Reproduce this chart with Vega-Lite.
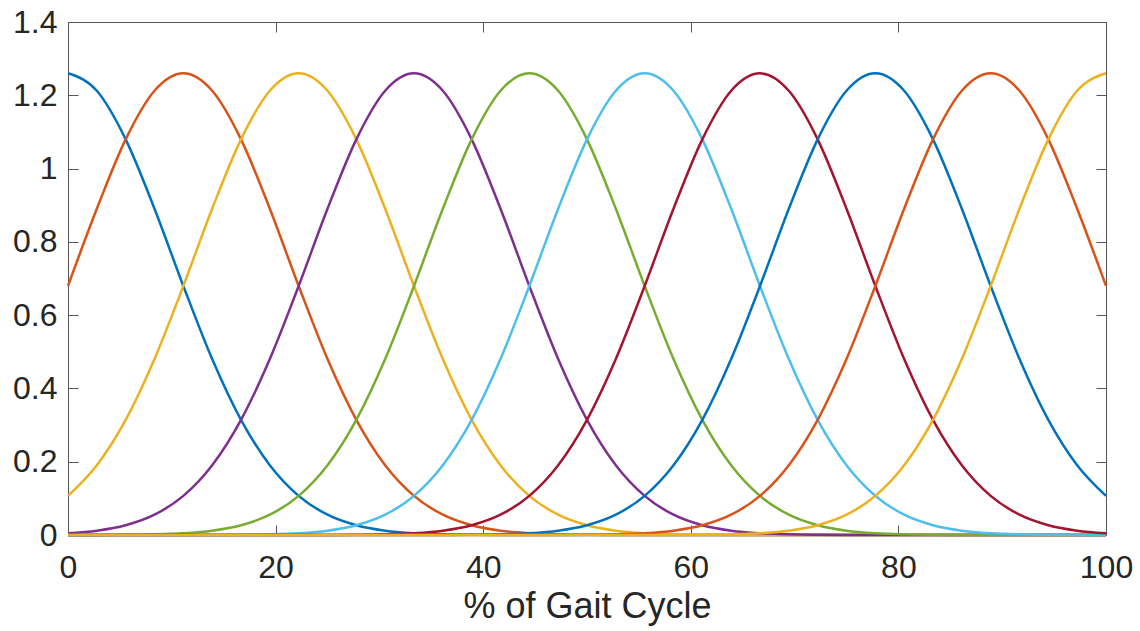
{
"$schema": "https://vega.github.io/schema/vega-lite/v6.json",
"width": 1038,
"height": 513,
"autosize": {"type": "none"},
"padding": {"left": 68, "top": 22, "right": 34, "bottom": 96},
"background": "white",
"data": {"values": [
{"x":0,"s":1,"y":1.26},{"x":2.778,"s":1,"y":1.2123},{"x":5.556,"s":1,"y":1.0798},{"x":8.333,"s":1,"y":0.8904},{"x":11.111,"s":1,"y":0.6797},{"x":13.889,"s":1,"y":0.4803},{"x":16.667,"s":1,"y":0.3142},{"x":19.444,"s":1,"y":0.1903},{"x":22.222,"s":1,"y":0.1067},{"x":25,"s":1,"y":0.0554},{"x":27.778,"s":1,"y":0.0266},{"x":30.556,"s":1,"y":0.0118},{"x":33.333,"s":1,"y":0.0049},{"x":36.111,"s":1,"y":0.0019},{"x":38.889,"s":1,"y":0.0007},{"x":41.667,"s":1,"y":0.0002},{"x":44.444,"s":1,"y":0},{"x":47.222,"s":1,"y":0},{"x":50,"s":1,"y":0},{"x":52.778,"s":1,"y":0},{"x":55.556,"s":1,"y":0},{"x":58.333,"s":1,"y":0},{"x":61.111,"s":1,"y":0},{"x":63.889,"s":1,"y":0},{"x":66.667,"s":1,"y":0},{"x":69.444,"s":1,"y":0},{"x":72.222,"s":1,"y":0},{"x":75,"s":1,"y":0},{"x":77.778,"s":1,"y":0},{"x":80.556,"s":1,"y":0},{"x":83.333,"s":1,"y":0},{"x":86.111,"s":1,"y":0},{"x":88.889,"s":1,"y":0},{"x":91.667,"s":1,"y":0},{"x":94.444,"s":1,"y":0},{"x":97.222,"s":1,"y":0},{"x":100,"s":1,"y":0},
{"x":0,"s":2,"y":0.6797},{"x":2.778,"s":2,"y":0.8904},{"x":5.556,"s":2,"y":1.0798},{"x":8.333,"s":2,"y":1.2123},{"x":11.111,"s":2,"y":1.26},{"x":13.889,"s":2,"y":1.2123},{"x":16.667,"s":2,"y":1.0798},{"x":19.444,"s":2,"y":0.8904},{"x":22.222,"s":2,"y":0.6797},{"x":25,"s":2,"y":0.4803},{"x":27.778,"s":2,"y":0.3142},{"x":30.556,"s":2,"y":0.1903},{"x":33.333,"s":2,"y":0.1067},{"x":36.111,"s":2,"y":0.0554},{"x":38.889,"s":2,"y":0.0266},{"x":41.667,"s":2,"y":0.0118},{"x":44.444,"s":2,"y":0.0049},{"x":47.222,"s":2,"y":0.0019},{"x":50,"s":2,"y":0.0007},{"x":52.778,"s":2,"y":0.0002},{"x":55.556,"s":2,"y":0},{"x":58.333,"s":2,"y":0},{"x":61.111,"s":2,"y":0},{"x":63.889,"s":2,"y":0},{"x":66.667,"s":2,"y":0},{"x":69.444,"s":2,"y":0},{"x":72.222,"s":2,"y":0},{"x":75,"s":2,"y":0},{"x":77.778,"s":2,"y":0},{"x":80.556,"s":2,"y":0},{"x":83.333,"s":2,"y":0},{"x":86.111,"s":2,"y":0},{"x":88.889,"s":2,"y":0},{"x":91.667,"s":2,"y":0},{"x":94.444,"s":2,"y":0},{"x":97.222,"s":2,"y":0},{"x":100,"s":2,"y":0},
{"x":0,"s":3,"y":0.1067},{"x":2.778,"s":3,"y":0.1903},{"x":5.556,"s":3,"y":0.3142},{"x":8.333,"s":3,"y":0.4803},{"x":11.111,"s":3,"y":0.6797},{"x":13.889,"s":3,"y":0.8904},{"x":16.667,"s":3,"y":1.0798},{"x":19.444,"s":3,"y":1.2123},{"x":22.222,"s":3,"y":1.26},{"x":25,"s":3,"y":1.2123},{"x":27.778,"s":3,"y":1.0798},{"x":30.556,"s":3,"y":0.8904},{"x":33.333,"s":3,"y":0.6797},{"x":36.111,"s":3,"y":0.4803},{"x":38.889,"s":3,"y":0.3142},{"x":41.667,"s":3,"y":0.1903},{"x":44.444,"s":3,"y":0.1067},{"x":47.222,"s":3,"y":0.0554},{"x":50,"s":3,"y":0.0266},{"x":52.778,"s":3,"y":0.0118},{"x":55.556,"s":3,"y":0.0049},{"x":58.333,"s":3,"y":0.0019},{"x":61.111,"s":3,"y":0.0007},{"x":63.889,"s":3,"y":0.0002},{"x":66.667,"s":3,"y":0},{"x":69.444,"s":3,"y":0},{"x":72.222,"s":3,"y":0},{"x":75,"s":3,"y":0},{"x":77.778,"s":3,"y":0},{"x":80.556,"s":3,"y":0},{"x":83.333,"s":3,"y":0},{"x":86.111,"s":3,"y":0},{"x":88.889,"s":3,"y":0},{"x":91.667,"s":3,"y":0},{"x":94.444,"s":3,"y":0},{"x":97.222,"s":3,"y":0},{"x":100,"s":3,"y":0},
{"x":0,"s":4,"y":0.0049},{"x":2.778,"s":4,"y":0.0118},{"x":5.556,"s":4,"y":0.0266},{"x":8.333,"s":4,"y":0.0554},{"x":11.111,"s":4,"y":0.1067},{"x":13.889,"s":4,"y":0.1903},{"x":16.667,"s":4,"y":0.3142},{"x":19.444,"s":4,"y":0.4803},{"x":22.222,"s":4,"y":0.6797},{"x":25,"s":4,"y":0.8904},{"x":27.778,"s":4,"y":1.0798},{"x":30.556,"s":4,"y":1.2123},{"x":33.333,"s":4,"y":1.26},{"x":36.111,"s":4,"y":1.2123},{"x":38.889,"s":4,"y":1.0798},{"x":41.667,"s":4,"y":0.8904},{"x":44.444,"s":4,"y":0.6797},{"x":47.222,"s":4,"y":0.4803},{"x":50,"s":4,"y":0.3142},{"x":52.778,"s":4,"y":0.1903},{"x":55.556,"s":4,"y":0.1067},{"x":58.333,"s":4,"y":0.0554},{"x":61.111,"s":4,"y":0.0266},{"x":63.889,"s":4,"y":0.0118},{"x":66.667,"s":4,"y":0.0049},{"x":69.444,"s":4,"y":0.0019},{"x":72.222,"s":4,"y":0.0007},{"x":75,"s":4,"y":0.0002},{"x":77.778,"s":4,"y":0},{"x":80.556,"s":4,"y":0},{"x":83.333,"s":4,"y":0},{"x":86.111,"s":4,"y":0},{"x":88.889,"s":4,"y":0},{"x":91.667,"s":4,"y":0},{"x":94.444,"s":4,"y":0},{"x":97.222,"s":4,"y":0},{"x":100,"s":4,"y":0},
{"x":0,"s":5,"y":0},{"x":2.778,"s":5,"y":0.0002},{"x":5.556,"s":5,"y":0.0007},{"x":8.333,"s":5,"y":0.0019},{"x":11.111,"s":5,"y":0.0049},{"x":13.889,"s":5,"y":0.0118},{"x":16.667,"s":5,"y":0.0266},{"x":19.444,"s":5,"y":0.0554},{"x":22.222,"s":5,"y":0.1067},{"x":25,"s":5,"y":0.1903},{"x":27.778,"s":5,"y":0.3142},{"x":30.556,"s":5,"y":0.4803},{"x":33.333,"s":5,"y":0.6797},{"x":36.111,"s":5,"y":0.8904},{"x":38.889,"s":5,"y":1.0798},{"x":41.667,"s":5,"y":1.2123},{"x":44.444,"s":5,"y":1.26},{"x":47.222,"s":5,"y":1.2123},{"x":50,"s":5,"y":1.0798},{"x":52.778,"s":5,"y":0.8904},{"x":55.556,"s":5,"y":0.6797},{"x":58.333,"s":5,"y":0.4803},{"x":61.111,"s":5,"y":0.3142},{"x":63.889,"s":5,"y":0.1903},{"x":66.667,"s":5,"y":0.1067},{"x":69.444,"s":5,"y":0.0554},{"x":72.222,"s":5,"y":0.0266},{"x":75,"s":5,"y":0.0118},{"x":77.778,"s":5,"y":0.0049},{"x":80.556,"s":5,"y":0.0019},{"x":83.333,"s":5,"y":0.0007},{"x":86.111,"s":5,"y":0.0002},{"x":88.889,"s":5,"y":0},{"x":91.667,"s":5,"y":0},{"x":94.444,"s":5,"y":0},{"x":97.222,"s":5,"y":0},{"x":100,"s":5,"y":0},
{"x":0,"s":6,"y":0},{"x":2.778,"s":6,"y":0},{"x":5.556,"s":6,"y":0},{"x":8.333,"s":6,"y":0},{"x":11.111,"s":6,"y":0},{"x":13.889,"s":6,"y":0.0002},{"x":16.667,"s":6,"y":0.0007},{"x":19.444,"s":6,"y":0.0019},{"x":22.222,"s":6,"y":0.0049},{"x":25,"s":6,"y":0.0118},{"x":27.778,"s":6,"y":0.0266},{"x":30.556,"s":6,"y":0.0554},{"x":33.333,"s":6,"y":0.1067},{"x":36.111,"s":6,"y":0.1903},{"x":38.889,"s":6,"y":0.3142},{"x":41.667,"s":6,"y":0.4803},{"x":44.444,"s":6,"y":0.6797},{"x":47.222,"s":6,"y":0.8904},{"x":50,"s":6,"y":1.0798},{"x":52.778,"s":6,"y":1.2123},{"x":55.556,"s":6,"y":1.26},{"x":58.333,"s":6,"y":1.2123},{"x":61.111,"s":6,"y":1.0798},{"x":63.889,"s":6,"y":0.8904},{"x":66.667,"s":6,"y":0.6797},{"x":69.444,"s":6,"y":0.4803},{"x":72.222,"s":6,"y":0.3142},{"x":75,"s":6,"y":0.1903},{"x":77.778,"s":6,"y":0.1067},{"x":80.556,"s":6,"y":0.0554},{"x":83.333,"s":6,"y":0.0266},{"x":86.111,"s":6,"y":0.0118},{"x":88.889,"s":6,"y":0.0049},{"x":91.667,"s":6,"y":0.0019},{"x":94.444,"s":6,"y":0.0007},{"x":97.222,"s":6,"y":0.0002},{"x":100,"s":6,"y":0},
{"x":0,"s":7,"y":0},{"x":2.778,"s":7,"y":0},{"x":5.556,"s":7,"y":0},{"x":8.333,"s":7,"y":0},{"x":11.111,"s":7,"y":0},{"x":13.889,"s":7,"y":0},{"x":16.667,"s":7,"y":0},{"x":19.444,"s":7,"y":0},{"x":22.222,"s":7,"y":0},{"x":25,"s":7,"y":0.0002},{"x":27.778,"s":7,"y":0.0007},{"x":30.556,"s":7,"y":0.0019},{"x":33.333,"s":7,"y":0.0049},{"x":36.111,"s":7,"y":0.0118},{"x":38.889,"s":7,"y":0.0266},{"x":41.667,"s":7,"y":0.0554},{"x":44.444,"s":7,"y":0.1067},{"x":47.222,"s":7,"y":0.1903},{"x":50,"s":7,"y":0.3142},{"x":52.778,"s":7,"y":0.4803},{"x":55.556,"s":7,"y":0.6797},{"x":58.333,"s":7,"y":0.8904},{"x":61.111,"s":7,"y":1.0798},{"x":63.889,"s":7,"y":1.2123},{"x":66.667,"s":7,"y":1.26},{"x":69.444,"s":7,"y":1.2123},{"x":72.222,"s":7,"y":1.0798},{"x":75,"s":7,"y":0.8904},{"x":77.778,"s":7,"y":0.6797},{"x":80.556,"s":7,"y":0.4803},{"x":83.333,"s":7,"y":0.3142},{"x":86.111,"s":7,"y":0.1903},{"x":88.889,"s":7,"y":0.1067},{"x":91.667,"s":7,"y":0.0554},{"x":94.444,"s":7,"y":0.0266},{"x":97.222,"s":7,"y":0.0118},{"x":100,"s":7,"y":0.0049},
{"x":0,"s":8,"y":0},{"x":2.778,"s":8,"y":0},{"x":5.556,"s":8,"y":0},{"x":8.333,"s":8,"y":0},{"x":11.111,"s":8,"y":0},{"x":13.889,"s":8,"y":0},{"x":16.667,"s":8,"y":0},{"x":19.444,"s":8,"y":0},{"x":22.222,"s":8,"y":0},{"x":25,"s":8,"y":0},{"x":27.778,"s":8,"y":0},{"x":30.556,"s":8,"y":0},{"x":33.333,"s":8,"y":0},{"x":36.111,"s":8,"y":0.0002},{"x":38.889,"s":8,"y":0.0007},{"x":41.667,"s":8,"y":0.0019},{"x":44.444,"s":8,"y":0.0049},{"x":47.222,"s":8,"y":0.0118},{"x":50,"s":8,"y":0.0266},{"x":52.778,"s":8,"y":0.0554},{"x":55.556,"s":8,"y":0.1067},{"x":58.333,"s":8,"y":0.1903},{"x":61.111,"s":8,"y":0.3142},{"x":63.889,"s":8,"y":0.4803},{"x":66.667,"s":8,"y":0.6797},{"x":69.444,"s":8,"y":0.8904},{"x":72.222,"s":8,"y":1.0798},{"x":75,"s":8,"y":1.2123},{"x":77.778,"s":8,"y":1.26},{"x":80.556,"s":8,"y":1.2123},{"x":83.333,"s":8,"y":1.0798},{"x":86.111,"s":8,"y":0.8904},{"x":88.889,"s":8,"y":0.6797},{"x":91.667,"s":8,"y":0.4803},{"x":94.444,"s":8,"y":0.3142},{"x":97.222,"s":8,"y":0.1903},{"x":100,"s":8,"y":0.1067},
{"x":0,"s":9,"y":0},{"x":2.778,"s":9,"y":0},{"x":5.556,"s":9,"y":0},{"x":8.333,"s":9,"y":0},{"x":11.111,"s":9,"y":0},{"x":13.889,"s":9,"y":0},{"x":16.667,"s":9,"y":0},{"x":19.444,"s":9,"y":0},{"x":22.222,"s":9,"y":0},{"x":25,"s":9,"y":0},{"x":27.778,"s":9,"y":0},{"x":30.556,"s":9,"y":0},{"x":33.333,"s":9,"y":0},{"x":36.111,"s":9,"y":0},{"x":38.889,"s":9,"y":0},{"x":41.667,"s":9,"y":0},{"x":44.444,"s":9,"y":0},{"x":47.222,"s":9,"y":0.0002},{"x":50,"s":9,"y":0.0007},{"x":52.778,"s":9,"y":0.0019},{"x":55.556,"s":9,"y":0.0049},{"x":58.333,"s":9,"y":0.0118},{"x":61.111,"s":9,"y":0.0266},{"x":63.889,"s":9,"y":0.0554},{"x":66.667,"s":9,"y":0.1067},{"x":69.444,"s":9,"y":0.1903},{"x":72.222,"s":9,"y":0.3142},{"x":75,"s":9,"y":0.4803},{"x":77.778,"s":9,"y":0.6797},{"x":80.556,"s":9,"y":0.8904},{"x":83.333,"s":9,"y":1.0798},{"x":86.111,"s":9,"y":1.2123},{"x":88.889,"s":9,"y":1.26},{"x":91.667,"s":9,"y":1.2123},{"x":94.444,"s":9,"y":1.0798},{"x":97.222,"s":9,"y":0.8904},{"x":100,"s":9,"y":0.6797},
{"x":0,"s":10,"y":0},{"x":2.778,"s":10,"y":0},{"x":5.556,"s":10,"y":0},{"x":8.333,"s":10,"y":0},{"x":11.111,"s":10,"y":0},{"x":13.889,"s":10,"y":0},{"x":16.667,"s":10,"y":0},{"x":19.444,"s":10,"y":0},{"x":22.222,"s":10,"y":0},{"x":25,"s":10,"y":0},{"x":27.778,"s":10,"y":0},{"x":30.556,"s":10,"y":0},{"x":33.333,"s":10,"y":0},{"x":36.111,"s":10,"y":0},{"x":38.889,"s":10,"y":0},{"x":41.667,"s":10,"y":0},{"x":44.444,"s":10,"y":0},{"x":47.222,"s":10,"y":0},{"x":50,"s":10,"y":0},{"x":52.778,"s":10,"y":0},{"x":55.556,"s":10,"y":0},{"x":58.333,"s":10,"y":0.0002},{"x":61.111,"s":10,"y":0.0007},{"x":63.889,"s":10,"y":0.0019},{"x":66.667,"s":10,"y":0.0049},{"x":69.444,"s":10,"y":0.0118},{"x":72.222,"s":10,"y":0.0266},{"x":75,"s":10,"y":0.0554},{"x":77.778,"s":10,"y":0.1067},{"x":80.556,"s":10,"y":0.1903},{"x":83.333,"s":10,"y":0.3142},{"x":86.111,"s":10,"y":0.4803},{"x":88.889,"s":10,"y":0.6797},{"x":91.667,"s":10,"y":0.8904},{"x":94.444,"s":10,"y":1.0798},{"x":97.222,"s":10,"y":1.2123},{"x":100,"s":10,"y":1.26}
]},
"config": {
  "font": "Liberation Sans",
  "view": {"stroke": null},
  "axis": {
    "grid": false,
    "domainColor": "#555555",
    "domainWidth": 1,
    "tickColor": "#555555",
    "tickWidth": 1,
    "tickSize": -10,
    "labelColor": "#262626",
    "labelFont": "Liberation Sans",
    "labelFontSize": 32,
    "titleColor": "#262626",
    "titleFont": "Liberation Sans",
    "titleFontSize": 36,
    "titleFontWeight": "normal"
  }
},
"layer": [
  {
    "mark": {"type": "line", "strokeWidth": 2.5, "interpolate": "monotone", "clip": false},
    "encoding": {
      "x": {"field": "x", "type": "quantitative",
            "scale": {"domain": [0, 100], "nice": false, "zero": false},
            "axis": {"orient": "bottom", "values": [0, 20, 40, 60, 80, 100], "format": "d",
                     "title": "% of Gait Cycle", "labelPadding": 27, "titlePadding": 6, "labelFlush": false}},
      "y": {"field": "y", "type": "quantitative",
            "scale": {"domain": [0, 1.4], "nice": false, "zero": false},
            "axis": {"orient": "left", "values": [0, 0.2, 0.4, 0.6, 0.8, 1, 1.2, 1.4], "format": "~g",
                     "title": null, "labelPadding": 21, "labelFlush": false}},
      "color": {"field": "s", "type": "nominal",
                "scale": {"domain": [1, 2, 3, 4, 5, 6, 7, 8, 9, 10],
                          "range": ["#0072BD", "#D95319", "#EDB120", "#7E2F8E", "#77AC30", "#4DBEEE", "#A2142F", "#0072BD", "#D95319", "#EDB120"]},
                "legend": null}
    }
  },
  {
    "mark": {"type": "point", "opacity": 0},
    "encoding": {
      "x": {"field": "x", "type": "quantitative",
            "scale": {"domain": [0, 100], "nice": false, "zero": false},
            "axis": {"orient": "top", "values": [0, 20, 40, 60, 80, 100], "labels": false, "title": null}},
      "y": {"field": "y", "type": "quantitative",
            "scale": {"domain": [0, 1.4], "nice": false, "zero": false},
            "axis": {"orient": "right", "values": [0, 0.2, 0.4, 0.6, 0.8, 1, 1.2, 1.4], "labels": false, "title": null}}
    }
  }
],
"resolve": {"axis": {"x": "independent", "y": "independent"}}
}
